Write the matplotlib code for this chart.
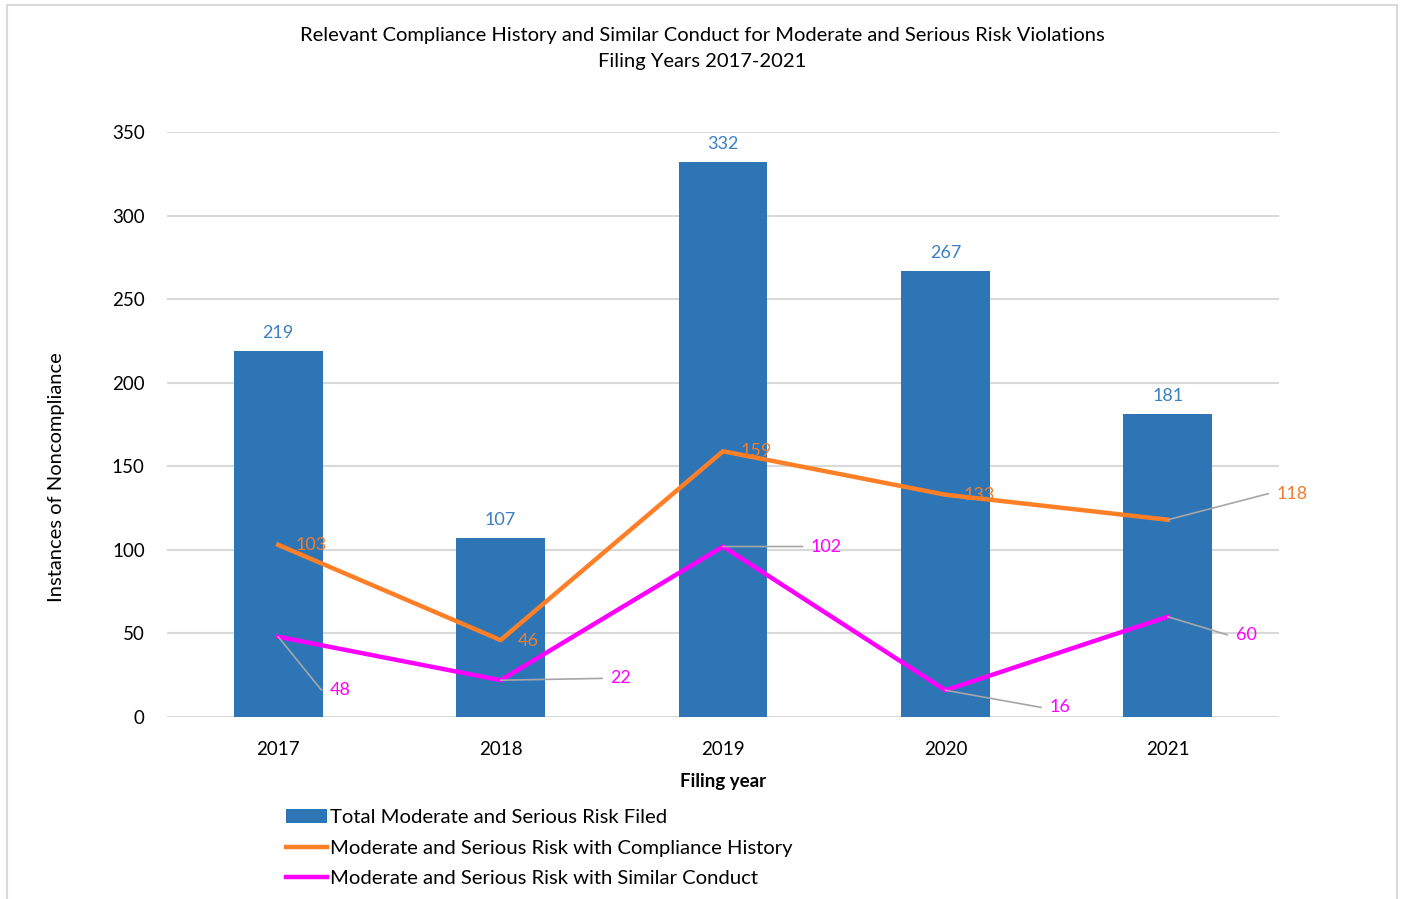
import math
import matplotlib
matplotlib.use("Agg")
import matplotlib.pyplot as plt
from matplotlib.patches import Rectangle

plt.rcParams['font.family'] = ['Lato', 'DejaVu Sans']

years = ['2017', '2018', '2019', '2020', '2021']
total_filed = [219, 107, 332, 267, 181]
compliance_history = [103, 46, 159, 133, 118]
similar_conduct = [48, 22, 102, 16, 60]

bar_color = '#2E75B6'
orange = '#FF7F27'
magenta = '#FF00FF'
leader_gray = '#A6A6A6'

fig = plt.figure(figsize=(14.05, 8.99), dpi=100)
ax = fig.add_axes([167 / 1405, 1 - 717 / 899, 1112 / 1405, 585 / 899])

# light frame round the whole chart
fig.patches.append(Rectangle((7 / 1405, -0.01), 1390 / 1405, 1 - 5 / 899 + 0.01,
                             transform=fig.transFigure, fill=False,
                             edgecolor='#D9D9D9', lw=1.5))

x = list(range(len(years)))
bars = ax.bar(x, total_filed, width=0.4, color=bar_color, zorder=2,
              label='Total Moderate and Serious Risk Filed')
l1, = ax.plot(x, compliance_history, color=orange, lw=3.2, zorder=3,
              label='Moderate and Serious Risk with Compliance History')
l2, = ax.plot(x, similar_conduct, color=magenta, lw=3.2, zorder=3,
              label='Moderate and Serious Risk with Similar Conduct')

ax.set_xlim(-0.5, 4.5)
ax.set_ylim(0, 350)
ax.set_yticks(range(0, 351, 50))
ax.set_xticks(x)
ax.set_xticklabels(years)
ax.grid(axis='y', color='#D9D9D9', lw=1.5, zorder=0)
ax.set_axisbelow(True)
for s in ax.spines.values():
    s.set_visible(False)
ax.tick_params(axis='both', length=0, labelsize=13.5, colors='#000000')
ax.tick_params(axis='y', pad=16)
ax.tick_params(axis='x', pad=17)

ax.set_xlabel('Filing year', fontsize=13.5, fontweight='bold', labelpad=11)
ax.set_ylabel('Instances of Noncompliance', fontsize=14.5)
ax.yaxis.set_label_coords(-0.099, (717 - 477) / 585)
ax.yaxis.label.set_va('center')

fig.text(702 / 1405, 1 - 35 / 899,
         'Relevant Compliance History and Similar Conduct for Moderate and Serious Risk Violations',
         ha='center', va='center', fontsize=14.5)
fig.text(702 / 1405, 1 - 61 / 899, 'Filing Years 2017-2021',
         ha='center', va='center', fontsize=14.5)

# bar value labels
for i, v in enumerate(total_filed):
    ax.annotate(str(v), (i, v), xytext=(0, 18), textcoords='offset pixels',
                ha='center', va='center', color='#3B7FC4', fontsize=13)

# compliance-history labels placed to the right of each point
orange_offsets = [(17, 0), (17, -1), (18, 0), (18, 0), None]
for i, v in enumerate(compliance_history):
    off = orange_offsets[i]
    if off is not None:
        ax.annotate(str(v), (i, v), xytext=off, textcoords='offset pixels',
                    ha='left', va='center', color='#ED7D31', fontsize=13, zorder=4)


def leader_label(i, v, dx, dy, color, stub=9):
    # text left edge at (dx, dy) pixels from point, with Excel-like leader line
    if abs(dy) < 4:
        conn = 'arc3,rad=0'
    else:
        ang = math.degrees(math.atan2(dy, dx - stub))
        conn = 'angle,angleA=0,angleB=%.2f,rad=0' % ang
    ax.annotate(str(v), (i, v), xytext=(dx, dy), textcoords='offset pixels',
                ha='left', va='center', color=color, fontsize=13, zorder=5,
                arrowprops=dict(arrowstyle='-', color=leader_gray, lw=1.2,
                                relpos=(0, 0.5), patchA=None, shrinkA=6, shrinkB=0,
                                connectionstyle=conn))


leader_label(4, compliance_history[4], 109, 26, '#ED7D31')

magenta_offsets = [(52, -53), (110, 2), (88, 0), (104, -17), (68, -18)]
for i, v in enumerate(similar_conduct):
    dx, dy = magenta_offsets[i]
    leader_label(i, v, dx, dy, magenta)

ax.legend([bars, l1, l2], [bars.get_label(), l1.get_label(), l2.get_label()],
          loc='upper left', bbox_to_anchor=(286 / 1405, 1 - 809 / 899),
          bbox_transform=fig.transFigure, frameon=False, fontsize=14.6,
          handlelength=2.0, handletextpad=0.15, labelspacing=0.66,
          borderaxespad=0, borderpad=0)

fig.savefig('out.png', dpi=100, facecolor='white')
